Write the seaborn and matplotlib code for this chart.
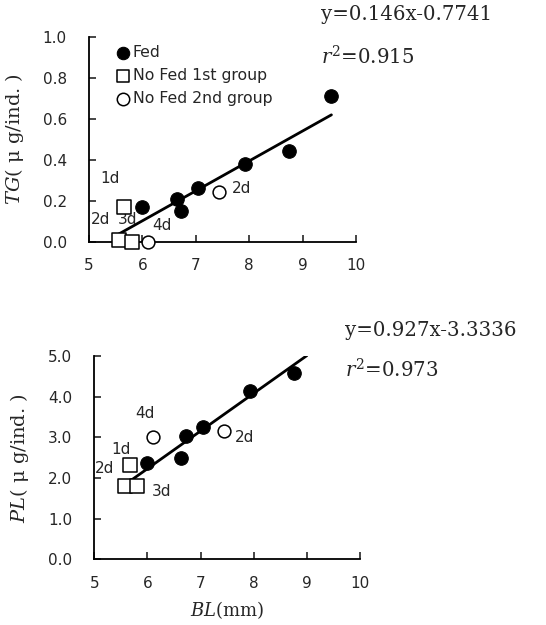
import matplotlib
matplotlib.use("Agg")
import matplotlib.pyplot as plt
import seaborn as sns
import pandas as pd
import numpy as np

# ---------------- data ----------------
bl_fed_tg = [6.00, 6.64, 6.72, 7.05, 7.93, 8.75, 9.54]
tg_fed = [0.17, 0.21, 0.15, 0.26, 0.38, 0.44, 0.71]
bl_g1_tg = [5.66, 5.56, 5.80]
tg_g1 = [0.17, 0.01, 0.00]
days_g1_tg = ["1d", "2d", "3d"]
bl_g2_tg = [6.10, 7.44]
tg_g2 = [0.00, 0.24]
days_g2_tg = ["4d", "2d"]

bl_fed_pl = [5.99, 6.64, 6.72, 7.05, 7.93, 8.75]
pl_fed = [2.36, 2.48, 3.03, 3.26, 4.14, 4.57]
bl_g1_pl = [5.67, 5.58, 5.80]
pl_g1 = [2.31, 1.81, 1.81]
days_g1_pl = ["1d", "2d", "3d"]
bl_g2_pl = [6.10, 7.45]
pl_g2 = [3.02, 3.16]
days_g2_pl = ["4d", "2d"]

tg_slope, tg_intercept, tg_r2 = 0.146, -0.7741, 0.915
pl_slope, pl_intercept, pl_r2 = 0.927, -3.3336, 0.973
tg_fit_range = [5.55, 9.54]
pl_fit_range = [5.56, 9.0]

x_ticks = [5, 6, 7, 8, 9, 10]
tg_ticks = [0.0, 0.2, 0.4, 0.6, 0.8, 1.0]
pl_ticks = [0.0, 1.0, 2.0, 3.0, 4.0, 5.0]

# label offsets (style, in data units relative to point)
tg_g1_off = [(-0.27, 0.14), (-0.35, 0.10), (-0.08, 0.11)]
tg_g2_off = [(0.27, 0.08), (0.42, 0.02)]
pl_g1_off = [(-0.16, 0.40), (-0.38, 0.43), (0.47, -0.15)]
pl_g2_off = [(-0.15, 0.57), (0.38, -0.16)]

# ---------------- style ----------------
sns.set_theme(style="white")
plt.rcParams["font.family"] = ["DejaVu Sans"]
plt.rcParams["mathtext.fontset"] = "dejavuserif"

fig = plt.figure(figsize=(5.46, 6.25), dpi=100)
ax1 = fig.add_axes([0.163, 0.6133, 0.489, 0.328])
ax2 = fig.add_axes([0.1727, 0.1051, 0.4866, 0.3253])

tick_fs = 11


def panel(ax, bl_fed, y_fed, bl_g1, y_g1, d_g1, off_g1, bl_g2, y_g2, d_g2, off_g2,
          slope, intercept, fit_range, yticks, ylim, legend):
    fit = pd.DataFrame({"x": fit_range})
    fit["y"] = slope * fit["x"] + intercept
    sns.lineplot(data=fit, x="x", y="y", ax=ax, color="black", lw=2.0, zorder=2)
    sns.scatterplot(x=bl_fed, y=y_fed, ax=ax, marker="o", s=95, color="black",
                    edgecolor="black", label="Fed", zorder=3, legend=legend,
                    clip_on=False)
    sns.scatterplot(x=bl_g1, y=y_g1, ax=ax, marker="s", s=90, facecolor="white",
                    edgecolor="black", linewidth=1.1, label="No Fed 1st group",
                    zorder=4, legend=legend, clip_on=False)
    sns.scatterplot(x=bl_g2, y=y_g2, ax=ax, marker="o", s=85, facecolor="white",
                    edgecolor="black", linewidth=1.1, label="No Fed 2nd group",
                    zorder=4, legend=legend, clip_on=False)
    for x, y, d, (dx, dy) in zip(bl_g1, y_g1, d_g1, off_g1):
        ax.text(x + dx, y + dy, d, fontsize=tick_fs, ha="center", va="center")
    for x, y, d, (dx, dy) in zip(bl_g2, y_g2, d_g2, off_g2):
        ax.text(x + dx, y + dy, d, fontsize=tick_fs, ha="center", va="center")
    ax.set_xlim(5, 10)
    ax.set_ylim(*ylim)
    ax.set_xticks(x_ticks)
    ax.set_xticklabels([str(t) for t in x_ticks], fontsize=tick_fs)
    ax.set_yticks(yticks)
    ax.set_yticklabels([f"{t:.1f}" for t in yticks], fontsize=tick_fs)
    ax.tick_params(axis="x", direction="in", length=5, width=1.2, pad=12, bottom=True)
    ax.tick_params(axis="y", direction="in", length=5, width=1.2, pad=16, left=True)
    for s in ["top", "right"]:
        ax.spines[s].set_visible(False)
    for s in ["left", "bottom"]:
        ax.spines[s].set_color("black")
        ax.spines[s].set_linewidth(1.3)
    ax.set_xlabel("")
    ax.patch.set_alpha(0)


panel(ax1, bl_fed_tg, tg_fed, bl_g1_tg, tg_g1, days_g1_tg, tg_g1_off,
      bl_g2_tg, tg_g2, days_g2_tg, tg_g2_off,
      tg_slope, tg_intercept, tg_fit_range, tg_ticks, (0, 1.0), True)
panel(ax2, bl_fed_pl, pl_fed, bl_g1_pl, pl_g1, days_g1_pl, pl_g1_off,
      bl_g2_pl, pl_g2, days_g2_pl, pl_g2_off,
      pl_slope, pl_intercept, pl_fit_range, pl_ticks, (0, 5.0), False)

leg = ax1.legend(loc="upper left", bbox_to_anchor=(0.07, 0.99), frameon=False,
                 fontsize=11.3, handletextpad=0.0, labelspacing=0.5,
                 borderaxespad=0.0, handlelength=1.2)
for h in leg.legend_handles:
    h.set_sizes([80])

ax1.set_ylabel(r"$\it{TG}$( μ g/ind. )", family="DejaVu Serif", fontsize=14, labelpad=12)
ax2.set_ylabel(r"$\it{PL}$( μ g/ind. )", family="DejaVu Serif", fontsize=14, labelpad=12)
ax2.set_xlabel(r"$\it{BL}$(mm)", family="DejaVu Serif", fontsize=13, labelpad=6)

eq_fs = 14.2
fig.text(0.588, 1 - 15 / 625, f"y={tg_slope}x{tg_intercept}", family="DejaVu Serif",
         fontsize=eq_fs, va="center", ha="left")
fig.text(0.588, 1 - 57 / 625, r"$\it{r}^2$" + f"={tg_r2}", family="DejaVu Serif",
         fontsize=eq_fs, va="center", ha="left")
fig.text(0.632, 1 - 330 / 625, f"y={pl_slope}x{pl_intercept}", family="DejaVu Serif",
         fontsize=eq_fs, va="center", ha="left")
fig.text(0.632, 1 - 370 / 625, r"$\it{r}^2$" + f"={pl_r2}", family="DejaVu Serif",
         fontsize=eq_fs, va="center", ha="left")

fig.savefig("out.png", dpi=100, facecolor="white")
